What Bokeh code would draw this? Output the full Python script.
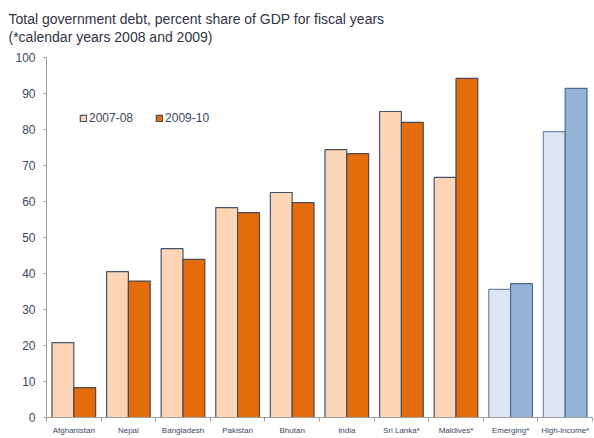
from bokeh.plotting import figure
from bokeh.models import ColumnDataSource, FixedTicker, Title, Legend, LegendItem, Range1d
from bokeh.embed import file_html
from bokeh.resources import INLINE

categories = ["Afghanistan", "Nepal", "Bangladesh", "Pakistan", "Bhutan", "India",
              "Sri Lanka*", "Maldives*", "Emerging*", "High-income*"]
debt_2007_08 = [20.8, 40.5, 46.9, 58.3, 62.5, 74.4, 85.0, 66.7, 35.6, 79.4]
debt_2009_10 = [8.3, 37.9, 43.9, 56.9, 59.7, 73.3, 82.0, 94.2, 37.2, 91.4]
group = ["South Asia"] * 8 + ["Benchmark"] * 2
y_ticks = [0, 10, 20, 30, 40, 50, 60, 70, 80, 90, 100]
title_text = ("Total government debt, percent share of GDP for fiscal years\n"
              "(*calendar years 2008 and 2009)")

TEXT = "#3B4763"
FONT = "Liberation Sans"

n = len(categories)
centers = [i + 0.5 for i in range(n)]
c1 = ["#FBD5B5" if g == "South Asia" else "#DCE6F2" for g in group]
c2 = ["#E46C0A" if g == "South Asia" else "#95B3D7" for g in group]
l1 = ["#44546A" if g == "South Asia" else "#6F86A8" for g in group]
l2 = ["#4A4A58" if g == "South Asia" else "#4F6A90" for g in group]

src = ColumnDataSource(dict(
    x1=[i + 0.3 for i in range(n)], x2=[i + 0.7 for i in range(n)],
    v1=debt_2007_08, v2=debt_2009_10, c1=c1, c2=c2, l1=l1, l2=l2,
))

p = figure(width=594, height=438, output_backend="svg", toolbar_location=None,
           x_range=Range1d(0, n), y_range=Range1d(0, 100),
           min_border_left=46, min_border_right=2, min_border_top=57, min_border_bottom=21)
p.outline_line_color = None
p.grid.grid_line_color = None
p.background_fill_color = "white"

r1 = p.vbar(x="x1", width=0.4, top="v1", bottom=0, source=src, fill_color="c1",
            line_color="l1", line_width=1.2)
r2 = p.vbar(x="x2", width=0.4, top="v2", bottom=0, source=src, fill_color="c2",
            line_color="l2", line_width=1.2)

# x axis
p.xaxis.ticker = FixedTicker(ticks=centers, minor_ticks=list(range(n + 1)))
p.xaxis.major_label_overrides = {c: lab for c, lab in zip(centers, categories)}
p.xaxis.major_tick_line_color = None
p.xaxis.major_tick_out = 4
p.xaxis.minor_tick_out = 4
p.xaxis.minor_tick_in = 0
p.xaxis.minor_tick_line_color = "#A0A0A0"
p.xaxis.axis_line_color = "#A0A0A0"
p.xaxis.major_label_text_font = FONT
p.xaxis.major_label_text_font_size = "8px"
p.xaxis.major_label_text_color = TEXT
p.xaxis.major_label_standoff = 4

# y axis
p.yaxis.ticker = FixedTicker(ticks=y_ticks)
p.yaxis.major_tick_out = 3
p.yaxis.major_tick_in = 0
p.yaxis.major_tick_line_color = "#A0A0A0"
p.yaxis.minor_tick_line_color = None
p.yaxis.axis_line_color = "#A0A0A0"
p.yaxis.major_label_text_font = FONT
p.yaxis.major_label_text_font_size = "12px"
p.yaxis.major_label_text_color = TEXT
p.yaxis.major_label_standoff = 8

# legend
legend = Legend(items=[LegendItem(label="2007-08", renderers=[r1], index=0),
                       LegendItem(label="2009-10", renderers=[r2], index=0)],
                orientation="horizontal", location=(33, 292),
                glyph_width=8, glyph_height=8, spacing=22, label_standoff=2,
                label_text_font=FONT, label_text_font_size="12px", label_text_color=TEXT,
                background_fill_alpha=0, border_line_color=None, padding=0, margin=0)
p.add_layout(legend, "center")

t = Title(text=title_text, text_font=FONT, text_font_size="14px", text_font_style="normal",
          text_color="#333344", text_line_height=1.15, offset=-38, standoff=21,
          vertical_align="top")
p.add_layout(t, "above")

open("out.html", "w").write(file_html(p, INLINE))
